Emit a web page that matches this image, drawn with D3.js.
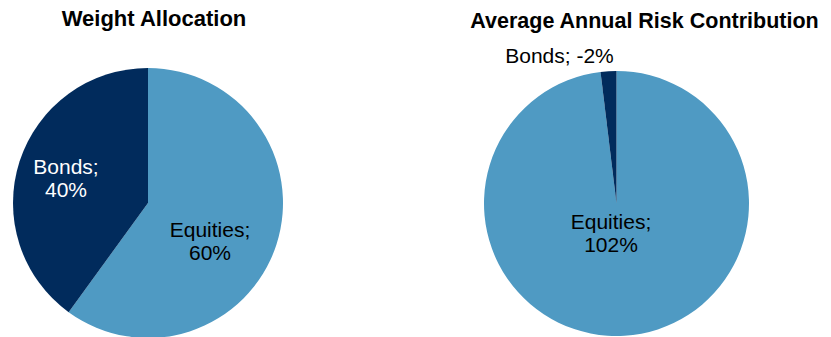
<!DOCTYPE html>
<html>
<head>
<meta charset="utf-8">
<script src="https://cdn.jsdelivr.net/npm/d3@7"></script>
<style>
  body { margin: 0; background: #ffffff; }
  svg { display: block; font-family: "Liberation Sans", Arial, sans-serif; }
</style>
</head>
<body>
<div id="chart"></div>
<script>
// chart data
var categories = ['Equities', 'Bonds'];
var weightValues = [60, 40];
var riskValues = [102, -2];
var titles = ['Weight Allocation', 'Average Annual Risk Contribution'];

// colors
var sliceColors = { 'Equities': '#4f9ac3', 'Bonds': '#012b5c' };

var width = 831, height = 337;

var svg = d3.select('#chart').append('svg')
    .attr('width', width)
    .attr('height', height);

// one pie: excel draws negative values by their size, clockwise from 12 o'clock
function drawPie(values, cx, cy, radius, title, titleX, titleY, titleSize, labels) {
    var data = categories.map(function(c, i) { return { name: c, value: values[i] }; });
    var pie = d3.pie()
        .sort(null)
        .value(function(d) { return Math.abs(d.value); });
    var arc = d3.arc().innerRadius(0).outerRadius(radius);

    var g = svg.append('g').attr('transform', 'translate(' + cx + ',' + cy + ')');
    g.selectAll('path')
        .data(pie(data))
        .enter().append('path')
        .attr('d', arc)
        .style('fill', function(d) { return sliceColors[d.data.name]; });

    svg.append('text')
        .attr('x', titleX)
        .attr('y', titleY)
        .attr('text-anchor', 'middle')
        .style('font-weight', 'bold')
        .style('font-size', titleSize + 'px')
        .style('fill', '#000')
        .text(title);

    // data labels "Name; value%"
    data.forEach(function(d) {
        var l = labels[d.name];
        var t = svg.append('text')
            .attr('text-anchor', 'middle')
            .style('font-size', '21px')
            .style('fill', l.color);
        if (l.lines === 1) {
            t.append('tspan').attr('x', l.x).attr('y', l.y)
                .text(d.name + '; ' + d.value + '%');
        } else {
            t.append('tspan').attr('x', l.x).attr('y', l.y).text(d.name + ';');
            t.append('tspan').attr('x', l.x).attr('y', l.y + 23).text(d.value + '%');
        }
    });
}

drawPie(weightValues, 148, 203, 135, titles[0], 154, 26, 22, {
    'Equities': { x: 210, y: 237, lines: 2, color: '#000' },
    'Bonds': { x: 66, y: 174, lines: 2, color: '#fff' }
});

drawPie(riskValues, 616.5, 203.5, 132.5, titles[1], 644.5, 28, 21.5, {
    'Equities': { x: 611, y: 229, lines: 2, color: '#000' },
    'Bonds': { x: 559.5, y: 63, lines: 1, color: '#000' }
});
</script>
</body>
</html>
